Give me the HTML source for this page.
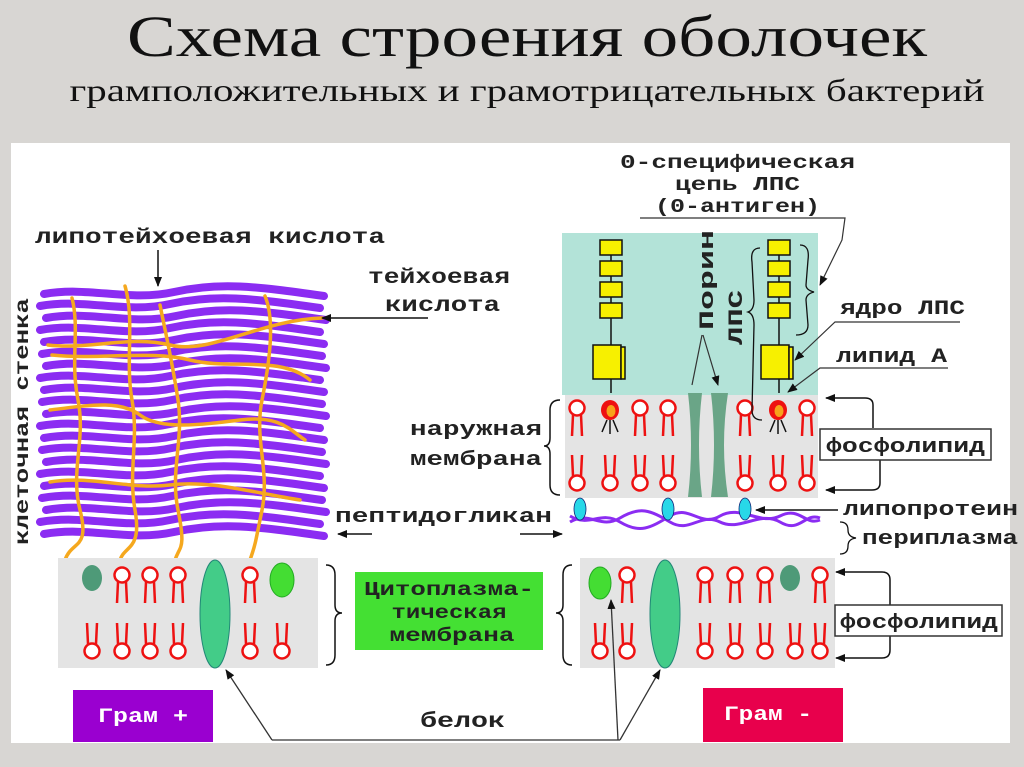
<!DOCTYPE html>
<html><head><meta charset="utf-8"><style>
html,body{margin:0;padding:0;background:#d8d6d3;}
svg{display:block}
.m{font-family:"Liberation Mono","DejaVu Sans Mono",monospace;font-weight:bold;fill:#222;}
</style></head><body>
<svg width="1024" height="767" viewBox="0 0 1024 767" xmlns="http://www.w3.org/2000/svg">
<defs>
<g id="lu"><circle cx="0" cy="0" r="7.5" fill="#fff" stroke="#e11" stroke-width="2.5"/><path d="M-4 7 L-5 28 M4 7 L5 28" stroke="#e11" stroke-width="2.5" fill="none"/></g>
<g id="ld"><circle cx="0" cy="0" r="7.5" fill="#fff" stroke="#e11" stroke-width="2.5"/><path d="M-4 -7 L-5 -28 M4 -7 L5 -28" stroke="#e11" stroke-width="2.5" fill="none"/></g>
<g id="lps"><ellipse cx="0" cy="0" rx="9" ry="10" fill="#e11"/><ellipse cx="1" cy="1" rx="4.5" ry="6" fill="#f7a21b"/><path d="M-3 10 L-8 22 M0 10 L0 24 M3 10 L8 22" stroke="#111" stroke-width="1.5"/></g>
<marker id="ar" markerWidth="10" markerHeight="8" refX="9" refY="4" orient="auto" markerUnits="userSpaceOnUse"><path d="M0 0 L10 4 L0 8z" fill="#111"/></marker>
<g id="wv"><path d="M0 0 C45 -8 85 8 130 -2 S210 -8 280 2" stroke="#8b2cf2" stroke-width="8" fill="none" stroke-linecap="round"/></g>
</defs>
<rect width="1024" height="767" fill="#d8d6d3"/>
<text x="527" y="56" text-anchor="middle" font-family="Liberation Serif,serif" font-size="58" textLength="800" lengthAdjust="spacingAndGlyphs" fill="#111">Схема строения оболочек</text>
<text x="527" y="101" text-anchor="middle" font-family="Liberation Serif,serif" font-size="32" textLength="915" lengthAdjust="spacingAndGlyphs" fill="#111">грамположительных и грамотрицательных бактерий</text>
<rect x="11" y="143" width="999" height="600" fill="#fff"/>

<!-- left mesh -->
<g>
<use href="#wv" x="44" y="294"/><use href="#wv" x="40" y="306"/><use href="#wv" x="46" y="318"/><use href="#wv" x="40" y="330"/>
<use href="#wv" x="44" y="342"/><use href="#wv" x="42" y="354"/><use href="#wv" x="46" y="366"/><use href="#wv" x="40" y="378"/>
<use href="#wv" x="44" y="390"/><use href="#wv" x="42" y="402"/><use href="#wv" x="46" y="414"/><use href="#wv" x="40" y="426"/>
<use href="#wv" x="44" y="438"/><use href="#wv" x="42" y="450"/><use href="#wv" x="46" y="462"/><use href="#wv" x="40" y="474"/>
<use href="#wv" x="44" y="486"/><use href="#wv" x="42" y="498"/><use href="#wv" x="46" y="510"/><use href="#wv" x="40" y="522"/>
<use href="#wv" x="44" y="534"/>
</g>
<g stroke="#f5a81e" stroke-width="3.5" fill="none" stroke-linecap="round">
<path d="M72 298 C80 330 70 360 78 400 S70 470 80 510 S72 540 65 560"/>
<path d="M125 286 C135 320 125 360 132 400 S128 470 135 510 S125 545 120 560"/>
<path d="M160 305 C165 330 172 360 178 400 S170 470 178 510 S180 545 175 560"/>
<path d="M265 296 C275 320 270 360 262 400 S270 470 262 510 S255 545 250 560"/>
<path d="M48 345 C90 350 130 335 170 345 S260 320 322 318"/>
<path d="M52 355 C100 360 150 350 190 360 S280 355 310 380"/>
<path d="M50 410 C90 405 120 400 140 415 S200 425 240 420 S290 430 305 440"/>
<path d="M50 482 C90 475 130 490 170 485 S250 492 300 500"/>
</g>
<text class="m" transform="translate(28,545) rotate(-90)" font-size="19" textLength="247" lengthAdjust="spacingAndGlyphs">клеточная стенка</text>
<text class="m" x="35" y="243" font-size="21" textLength="350" lengthAdjust="spacingAndGlyphs">липотейхоевая кислота</text>
<line x1="158" y1="250" x2="158" y2="286" stroke="#111" stroke-width="1.5" marker-end="url(#ar)"/>
<text class="m" x="368" y="283" font-size="21" textLength="142" lengthAdjust="spacingAndGlyphs">тейхоевая</text>
<text class="m" x="385" y="311" font-size="21" textLength="115" lengthAdjust="spacingAndGlyphs">кислота</text>
<line x1="428" y1="318" x2="322" y2="318" stroke="#111" stroke-width="1.5" marker-end="url(#ar)"/>

<!-- gram- outer -->
<rect x="562" y="233" width="256" height="162" fill="#b3e3d8"/>
<rect x="565" y="395" width="253" height="103" fill="#e4e4e4"/>
<g fill="#f7f000" stroke="#111" stroke-width="1.5">
<rect x="600" y="240" width="22" height="15"/><rect x="600" y="261" width="22" height="15"/><rect x="600" y="282" width="22" height="15"/><rect x="600" y="303" width="22" height="15"/>
<rect x="593" y="345" width="28" height="34"/><rect x="621" y="347" width="4" height="32"/>
<rect x="768" y="240" width="22" height="15"/><rect x="768" y="261" width="22" height="15"/><rect x="768" y="282" width="22" height="15"/><rect x="768" y="303" width="22" height="15"/>
<rect x="761" y="345" width="28" height="34"/><rect x="789" y="347" width="4" height="32"/>
</g>
<path d="M611 255v6M611 276v6M611 297v6M611 318v27M611 379v14M779 255v6M779 276v6M779 297v6M779 318v27M779 379v14" stroke="#111" stroke-width="1.5"/>
<path d="M688 393 L702 393 Q696 445 702 497 L688 497 Q694 445 688 393Z M711 393 L728 393 Q720 445 728 497 L711 497 Q717 445 711 393Z" fill="#6aa587"/>
<g>
<use href="#lu" x="577" y="408"/><use href="#lps" x="610" y="410"/><use href="#lu" x="640" y="408"/><use href="#lu" x="668" y="408"/>
<use href="#lu" x="745" y="408"/><use href="#lps" x="778" y="410"/><use href="#lu" x="807" y="408"/>
<use href="#ld" x="577" y="483"/><use href="#ld" x="610" y="483"/><use href="#ld" x="640" y="483"/><use href="#ld" x="668" y="483"/>
<use href="#ld" x="745" y="483"/><use href="#ld" x="778" y="483"/><use href="#ld" x="807" y="483"/>
</g>
<path d="M570 522 C590 510 600 530 620 518 S650 510 670 522 S700 512 720 522 S760 510 780 522 S805 512 820 518 M570 516 C590 528 600 510 620 522 S650 528 670 516 S700 528 720 516 S760 526 780 516 S805 526 820 520" stroke="#8b2cf2" stroke-width="3" fill="none"/>
<g fill="#28d8e8" stroke="#127" stroke-width="0.8"><ellipse cx="580" cy="509" rx="6" ry="11"/><ellipse cx="668" cy="509" rx="6" ry="11"/><ellipse cx="745" cy="509" rx="6" ry="11"/></g>
<text class="m" x="620" y="168" font-size="19" textLength="235" lengthAdjust="spacingAndGlyphs">0-специфическая</text>
<text class="m" x="675" y="190" font-size="19" textLength="125" lengthAdjust="spacingAndGlyphs">цепь ЛПС</text>
<text class="m" x="655" y="212" font-size="19" textLength="165" lengthAdjust="spacingAndGlyphs">(0-антиген)</text>
<path d="M640 218 H845 L842 240 L820 285" stroke="#333" stroke-width="1.2" fill="none" marker-end="url(#ar)"/>
<text class="m" transform="translate(713,330) rotate(-90)" font-size="20" textLength="100" lengthAdjust="spacingAndGlyphs">Порин</text>
<text class="m" transform="translate(742,345) rotate(-90)" font-size="20" textLength="55" lengthAdjust="spacingAndGlyphs">ЛПС</text>
<path d="M702 335 L692 385 M703 335 L718 385" stroke="#333" stroke-width="1.2" marker-end="url(#ar)"/>
<path d="M800 245 Q810 245 808 260 L806 285 Q806 290 814 292 Q806 294 806 300 L808 325 Q808 335 796 335" stroke="#111" stroke-width="1.3" fill="none"/>
<path d="M760 248 Q750 248 752 262 L754 300 Q754 310 748 312 Q754 314 754 325 L752 410 Q752 420 762 420" stroke="#111" stroke-width="1.3" fill="none"/>
<text class="m" x="840" y="314" font-size="20" textLength="125" lengthAdjust="spacingAndGlyphs">ядро ЛПС</text>
<path d="M960 322 H835 L795 360" stroke="#333" stroke-width="1.2" fill="none" marker-end="url(#ar)"/>
<text class="m" x="836" y="362" font-size="20" textLength="111" lengthAdjust="spacingAndGlyphs">липид А</text>
<path d="M948 368 H820 L788 392" stroke="#333" stroke-width="1.2" fill="none" marker-end="url(#ar)"/>
<path d="M873 428 V405 Q873 398 865 398 H826" stroke="#111" stroke-width="1.5" fill="none" marker-end="url(#ar)"/>
<path d="M880 460 V483 Q880 490 872 490 H826" stroke="#111" stroke-width="1.5" fill="none" marker-end="url(#ar)"/>
<rect x="820" y="429" width="171" height="31" fill="#fff" stroke="#333" stroke-width="1.5"/>
<text class="m" x="826" y="452" font-size="20" textLength="159" lengthAdjust="spacingAndGlyphs">фосфолипид</text>
<text class="m" x="410" y="435" font-size="20" textLength="132" lengthAdjust="spacingAndGlyphs">наружная</text>
<text class="m" x="410" y="465" font-size="20" textLength="132" lengthAdjust="spacingAndGlyphs">мембрана</text>
<path d="M560 400 Q550 400 550 410 V438 Q550 446 544 446 Q550 446 550 454 V485 Q550 495 560 495" stroke="#111" stroke-width="1.5" fill="none"/>
<text class="m" x="335" y="522" font-size="20" textLength="217" lengthAdjust="spacingAndGlyphs">пептидогликан</text>
<line x1="372" y1="534" x2="338" y2="534" stroke="#111" stroke-width="1.5" marker-end="url(#ar)"/>
<line x1="520" y1="534" x2="562" y2="534" stroke="#111" stroke-width="1.5" marker-end="url(#ar)"/>
<text class="m" x="843" y="515" font-size="20" textLength="175" lengthAdjust="spacingAndGlyphs">липопротеин</text>
<line x1="838" y1="510" x2="756" y2="510" stroke="#111" stroke-width="1.5" marker-end="url(#ar)"/>
<text class="m" x="862" y="544" font-size="20" textLength="156" lengthAdjust="spacingAndGlyphs">периплазма</text>
<path d="M840 522 Q848 522 848 530 Q848 537 856 538 Q848 539 848 546 Q848 554 840 554" stroke="#111" stroke-width="1.3" fill="none"/>

<!-- cytoplasmic membranes -->
<rect x="58" y="558" width="260" height="110" fill="#e4e4e4"/>
<rect x="580" y="558" width="255" height="110" fill="#e4e4e4"/>
<g>
<use href="#lu" x="122" y="575"/><use href="#lu" x="150" y="575"/><use href="#lu" x="178" y="575"/><use href="#lu" x="250" y="575"/>
<use href="#ld" x="92" y="651"/><use href="#ld" x="122" y="651"/><use href="#ld" x="150" y="651"/><use href="#ld" x="178" y="651"/><use href="#ld" x="250" y="651"/><use href="#ld" x="282" y="651"/>
<use href="#lu" x="627" y="575"/><use href="#lu" x="705" y="575"/><use href="#lu" x="735" y="575"/><use href="#lu" x="765" y="575"/><use href="#lu" x="820" y="575"/>
<use href="#ld" x="600" y="651"/><use href="#ld" x="627" y="651"/><use href="#ld" x="705" y="651"/><use href="#ld" x="735" y="651"/><use href="#ld" x="765" y="651"/><use href="#ld" x="795" y="651"/><use href="#ld" x="820" y="651"/>
</g>
<ellipse cx="92" cy="578" rx="10" ry="13" fill="#4e9a78"/>
<ellipse cx="282" cy="580" rx="12" ry="17" fill="#44dd33" stroke="#2a2" stroke-width="1"/>
<ellipse cx="215" cy="614" rx="15" ry="54" fill="#43cc88" stroke="#287" stroke-width="1"/>
<ellipse cx="600" cy="583" rx="11" ry="16" fill="#44dd33" stroke="#2a2" stroke-width="1"/>
<ellipse cx="665" cy="614" rx="15" ry="54" fill="#43cc88" stroke="#287" stroke-width="1"/>
<ellipse cx="790" cy="578" rx="10" ry="13" fill="#4e9a78"/>
<path d="M326 565 Q335 565 335 575 V605 Q335 613 342 613 Q335 613 335 621 V655 Q335 665 326 665" stroke="#111" stroke-width="1.5" fill="none"/>
<path d="M572 565 Q563 565 563 575 V605 Q563 613 556 613 Q563 613 563 621 V655 Q563 665 572 665" stroke="#111" stroke-width="1.5" fill="none"/>
<rect x="355" y="572" width="188" height="78" fill="#44e033"/>
<text class="m" x="449" y="595" font-size="19" text-anchor="middle" textLength="170" lengthAdjust="spacingAndGlyphs">Цитоплазма-</text>
<text class="m" x="449" y="618" font-size="19" text-anchor="middle" textLength="115" lengthAdjust="spacingAndGlyphs">тическая</text>
<text class="m" x="452" y="641" font-size="19" text-anchor="middle" textLength="125" lengthAdjust="spacingAndGlyphs">мембрана</text>
<path d="M890 605 V580 Q890 572 882 572 H836" stroke="#111" stroke-width="1.5" fill="none" marker-end="url(#ar)"/>
<path d="M890 635 V650 Q890 658 882 658 H836" stroke="#111" stroke-width="1.5" fill="none" marker-end="url(#ar)"/>
<rect x="835" y="605" width="167" height="31" fill="#fff" stroke="#333" stroke-width="1.5"/>
<text class="m" x="840" y="628" font-size="20" textLength="158" lengthAdjust="spacingAndGlyphs">фосфолипид</text>

<rect x="73" y="690" width="140" height="52" fill="#9a00d0"/>
<text x="143" y="722" text-anchor="middle" font-family="Liberation Mono,monospace" font-weight="bold" font-size="20" fill="#fff" textLength="90" lengthAdjust="spacingAndGlyphs">Грам +</text>
<rect x="703" y="688" width="140" height="54" fill="#e8004c"/>
<text x="768" y="720" text-anchor="middle" font-family="Liberation Mono,monospace" font-weight="bold" font-size="20" fill="#fff" textLength="88" lengthAdjust="spacingAndGlyphs">Грам -</text>
<text class="m" x="420" y="727" font-size="21" textLength="85" lengthAdjust="spacingAndGlyphs">белок</text>
<path d="M272 740 H620" stroke="#333" stroke-width="1.3" fill="none"/>
<path d="M272 740 L226 670" stroke="#333" stroke-width="1.3" marker-end="url(#ar)"/>
<path d="M618 740 L611 600" stroke="#333" stroke-width="1.3" marker-end="url(#ar)"/>
<path d="M620 740 L660 670" stroke="#333" stroke-width="1.3" marker-end="url(#ar)"/>
</svg>
</body></html>
